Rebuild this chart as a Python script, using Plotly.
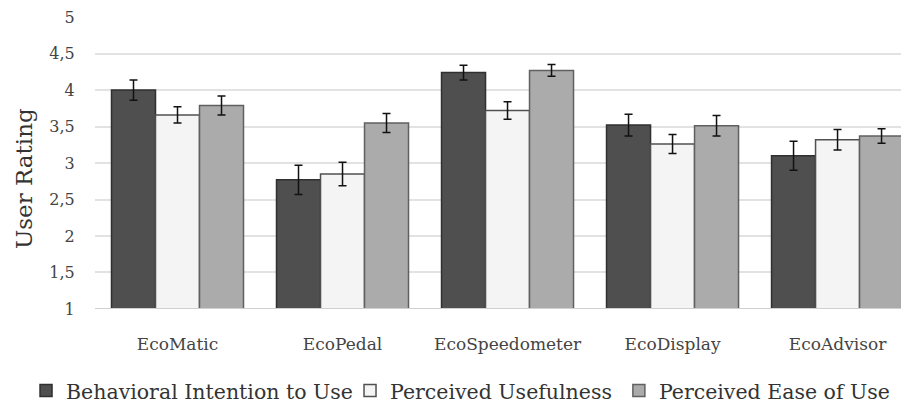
import plotly.graph_objects as go

categories = ["EcoMatic", "EcoPedal", "EcoSpeedometer", "EcoDisplay", "EcoAdvisor"]
series_names = ["Behavioral Intention to Use", "Perceived Usefulness", "Perceived Ease of Use"]
intention = [4.00, 2.77, 4.24, 3.52, 3.10]
intention_err = [0.14, 0.20, 0.10, 0.15, 0.20]
usefulness = [3.66, 2.85, 3.72, 3.26, 3.32]
usefulness_err = [0.11, 0.16, 0.12, 0.13, 0.14]
ease = [3.79, 3.55, 4.27, 3.51, 3.37]
ease_err = [0.13, 0.13, 0.08, 0.14, 0.10]
tick_vals = [1, 1.5, 2, 2.5, 3, 3.5, 4, 4.5, 5]
tick_text = ["1", "1,5", "2", "2,5", "3", "3,5", "4", "4,5", "5"]

colors = ["#4f4f4f", "#f4f4f4", "#ababab"]
outlines = ["#303030", "#505050", "#606060"]
legend_ids = ["legend", "legend2", "legend3"]
legend_x = [0.020, 0.3796, 0.678]
FONT = "DejaVu Serif"

fig = go.Figure()
for name, vals, errs, c, oc, lid in zip(series_names, [intention, usefulness, ease],
                                        [intention_err, usefulness_err, ease_err], colors, outlines, legend_ids):
    fig.add_trace(go.Bar(
        name=name, x=list(range(len(categories))), y=[v - 1 for v in vals], base=1,
        marker=dict(color=c, line=dict(color=oc, width=1.5)),
        error_y=dict(type="data", array=errs, color="#111111", thickness=1.5, width=4),
        hoverinfo="skip", legend=lid,
    ))

layout_legends = {}
for lid, lx in zip(legend_ids, legend_x):
    layout_legends[lid] = dict(
        xref="container", yref="container", x=lx, xanchor="left", y=0.031, yanchor="middle",
        orientation="h", font=dict(size=20.5, family=FONT, color="#333333"),
        itemwidth=30, bgcolor="rgba(0,0,0,0)", borderwidth=0)

# page body has an 8px margin, so the figure is 8px smaller than the window
fig.update_layout(
    width=901, height=395,
    margin=dict(l=87, r=0, t=9, b=94),
    barmode="group", bargap=0.2, bargroupgap=0,
    plot_bgcolor="white", paper_bgcolor="white",
    font=dict(family=FONT, color="#404040"),
    showlegend=True,
    xaxis=dict(range=[-0.5, 4.433], tickmode="array", tickvals=list(range(len(categories))),
               ticktext=categories, showgrid=False, zeroline=False, showline=False,
               tickfont=dict(size=17, family=FONT, color="#444444"), ticks="outside",
               ticklen=20, tickcolor="rgba(0,0,0,0)", automargin=False),
    yaxis=dict(range=[0.999, 5.002], tickmode="array", tickvals=tick_vals, ticktext=tick_text,
               showgrid=True, gridcolor="#e2e2e2", gridwidth=1.5, zeroline=False,
               showline=False, ticks="outside", ticklen=16, tickcolor="rgba(0,0,0,0)",
               tickfont=dict(size=16, family=FONT, color="#444444"), automargin=False,
               ticklabeloverflow="allow"),
    **layout_legends,
)
fig.add_annotation(text="User Rating", xref="paper", yref="y", x=-0.0872, y=2.78,
                   textangle=-90, showarrow=False, xanchor="center", yanchor="middle",
                   font=dict(size=23, family=FONT, color="#333333"))
fig.add_shape(type="line", xref="paper", yref="y", x0=0, x1=1, y0=1, y1=1,
              line=dict(color="#d0d0d0", width=2))

fig.write_html("out.html")
